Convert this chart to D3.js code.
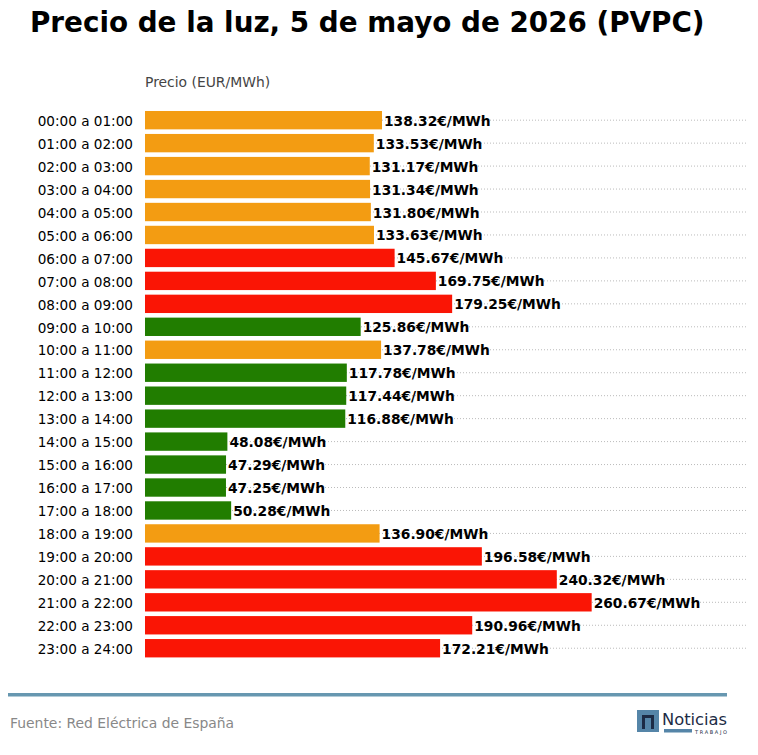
<!DOCTYPE html>
<html><head><meta charset="utf-8">
<script src="https://cdn.jsdelivr.net/npm/d3@7"></script>
<style>body{margin:0;background:#fff}svg{display:block}</style>
</head><body>
<svg id="c" width="758" height="755"></svg>
<script>
const hours = ["00:00 a 01:00","01:00 a 02:00","02:00 a 03:00","03:00 a 04:00","04:00 a 05:00","05:00 a 06:00","06:00 a 07:00","07:00 a 08:00","08:00 a 09:00","09:00 a 10:00","10:00 a 11:00","11:00 a 12:00","12:00 a 13:00","13:00 a 14:00","14:00 a 15:00","15:00 a 16:00","16:00 a 17:00","17:00 a 18:00","18:00 a 19:00","19:00 a 20:00","20:00 a 21:00","21:00 a 22:00","22:00 a 23:00","23:00 a 24:00"];
const prices = [138.32,133.53,131.17,131.34,131.80,133.63,145.67,169.75,179.25,125.86,137.78,117.78,117.44,116.88,48.08,47.29,47.25,50.28,136.90,196.58,240.32,260.67,190.96,172.21];
const levels = ["medio","medio","medio","medio","medio","medio","caro","caro","caro","barato","medio","barato","barato","barato","barato","barato","barato","barato","medio","caro","caro","caro","caro","caro"];
const levelNames = ["barato","medio","caro"];
const levelColors = ["#217d00","#f39c12","#fa1505"];
const title = "Precio de la luz, 5 de mayo de 2026 (PVPC)";
const axisTitle = "Precio (EUR/MWh)";
const source = "Fuente: Red Eléctrica de España";

const svg = d3.select("#c");
const x = d3.scaleLinear().domain([0, d3.max(prices) * 1.35]).range([145, 748]);
const y = d3.scaleBand().domain(hours).range([106.4, 662]).paddingInner(0.2).paddingOuter(0.2);
const color = d3.scaleOrdinal().domain(levelNames).range(levelColors);

svg.append("text").attr("x", 30).attr("y", 32).attr("font-family", "DejaVu Sans").attr("font-weight", "bold").attr("font-size", 27.8).attr("fill", "#000").text(title);
svg.append("text").attr("x", 145).attr("y", 87).attr("font-family", "DejaVu Sans").attr("font-size", 13.9).attr("fill", "#444").text(axisTitle);

// gridlines
svg.append("g").selectAll("line").data(hours).join("line")
  .attr("x1", x(0)).attr("x2", x.range()[1])
  .attr("y1", d => y(d) + y.bandwidth() / 2).attr("y2", d => y(d) + y.bandwidth() / 2)
  .attr("stroke", "#bbb").attr("stroke-width", 1).attr("stroke-dasharray", "1,2");

// y axis labels
const ya = svg.append("g").attr("transform", `translate(${x(0)},0)`).call(d3.axisLeft(y).tickSize(0).tickPadding(12));
ya.select(".domain").remove();
ya.selectAll("text").attr("font-family", "DejaVu Sans").attr("font-size", 13.6).attr("fill", "#000").attr("dy", "0.42em");

svg.append("g").selectAll("rect").data(prices).join("rect")
  .attr("x", x(0)).attr("y", (d, i) => y(hours[i]))
  .attr("width", d => x(d) - x(0)).attr("height", y.bandwidth())
  .attr("fill", (d, i) => color(levels[i]));

svg.append("g").selectAll("text").data(prices).join("text")
  .attr("x", d => x(d) + 2).attr("y", (d, i) => y(hours[i]) + y.bandwidth() / 2)
  .attr("dy", "0.4em").attr("font-family", "DejaVu Sans").attr("font-weight", "bold").attr("font-size", 13.8).attr("fill", "#000")
  .text(d => d.toFixed(2) + "€/MWh");

// footer
svg.append("rect").attr("x", 8).attr("y", 693).attr("width", 719).attr("height", 3.5).attr("fill", "#6797b0");
svg.append("text").attr("x", 10).attr("y", 728).attr("font-family", "DejaVu Sans").attr("font-size", 13.9).attr("fill", "#888").text(source);

// logo
const lg = svg.append("g");
lg.append("rect").attr("x", 637).attr("y", 710).attr("width", 22).attr("height", 22).attr("fill", "#5585a8");
lg.append("path").attr("d", "M642,729 V715 H654 V729 H651 V718 H645 V729 Z").attr("fill", "#1c2b45");
lg.append("text").attr("x", 662).attr("y", 725).attr("font-family", "DejaVu Sans Condensed").attr("font-size", 16).attr("fill", "#1c2b45").attr("textLength", 65).attr("lengthAdjust", "spacingAndGlyphs").text("Noticias");
lg.append("rect").attr("x", 664).attr("y", 729).attr("width", 28).attr("height", 3.5).attr("fill", "#5585a8");
lg.append("text").attr("x", 695).attr("y", 734).attr("font-family", "DejaVu Sans").attr("font-size", 5).attr("fill", "#1c2b45").attr("textLength", 32).text("TRABAJO");
</script>
</body></html>
